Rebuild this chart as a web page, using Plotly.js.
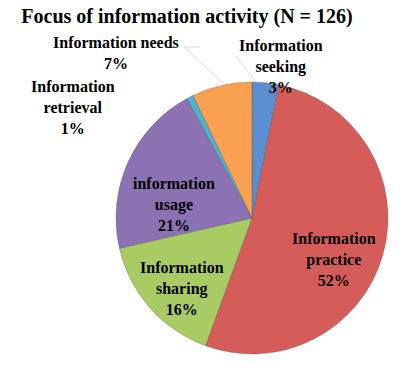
<!DOCTYPE html>
<html>
<head>
<meta charset="utf-8">
<script src="https://cdn.plot.ly/plotly-3.0.1.min.js"></script>
<style>html,body{margin:0;padding:0;background:#fff;}#chart{width:403px;height:371px;}</style>
</head>
<body>
<div id="chart"></div>
<script>
// Data (N = 126)
var categories = ["Information seeking", "Information practice", "Information sharing", "information usage", "Information retrieval", "Information needs"];
var labelLines = ["Information<br>seeking", "Information<br>practice", "Information<br>sharing", "information<br>usage", "Information<br>retrieval", "Information needs"];
var counts = [4, 66, 20, 26, 1, 9];
var percentLabels = ["3%", "52%", "16%", "21%", "1%", "7%"];
var colors = ["#5b8fd2", "#d65c59", "#a9cb64", "#8c72b3", "#4bb3cf", "#f9a151"];

// label placement (pixel centres in the 403x371 frame)
var labelPos = [[281, 66], [334, 259], [182, 288], [174, 204], [73, 107], [116, 53]];

var FONT = "Liberation Serif";
var W = 403, H = 371;
var annotations = categories.map(function (c, i) {
  var lines = (labelLines[i] + "<br>" + percentLabels[i]).split("<br>");
  return {
    text: lines.map(function (s) { return "<b>" + s + "</b>"; }).join("<br>"),
    x: labelPos[i][0] / W, y: 1 - labelPos[i][1] / H,
    xref: "paper", yref: "paper", xanchor: "center", yanchor: "middle",
    showarrow: false, align: "center",
    font: {family: FONT, size: 16, color: "#000"}
  };
});

var shapes = [
  {type: "line", xref: "paper", yref: "paper", x0: 184 / W, y0: 1 - 47 / H, x1: 224 / W, y1: 1 - 84 / H, line: {color: "#d8d8d8", width: 1}},
  {type: "line", xref: "paper", yref: "paper", x0: 236 / W, y0: 1 - 56 / H, x1: 256 / W, y1: 1 - 82 / H, line: {color: "#d8d8d8", width: 1}},
  {type: "line", xref: "paper", yref: "paper", x0: 184 / W, y0: 1 - 47 / H, x1: 200 / W, y1: 1 - 47 / H, line: {color: "#d8d8d8", width: 1}}
];

var cx = 252, cy = 218, r = 136;
var trace = {
  type: "pie",
  labels: categories,
  values: counts,
  sort: false,
  direction: "clockwise",
  rotation: 0,
  textinfo: "none",
  hoverinfo: "label+percent",
  marker: {colors: colors, line: {color: "rgba(60,60,60,0.35)", width: 0.8}},
  domain: {x: [(cx - r) / W, (cx + r) / W], y: [1 - (cy + r) / H, 1 - (cy - r) / H]},
  showlegend: false
};

var layout = {
  width: W, height: H,
  margin: {l: 0, r: 0, t: 0, b: 0},
  paper_bgcolor: "#fff",
  font: {family: FONT},
  title: {
    text: "<b>Focus of information activity (N = 126)</b>",
    x: 187 / W, xanchor: "center", y: 1 - 16 / H, yanchor: "middle",
    font: {family: FONT, size: 20, color: "#000"}
  },
  annotations: annotations,
  shapes: shapes
};

Plotly.newPlot("chart", [trace], layout, {displayModeBar: false, staticPlot: true});
</script>
</body>
</html>
